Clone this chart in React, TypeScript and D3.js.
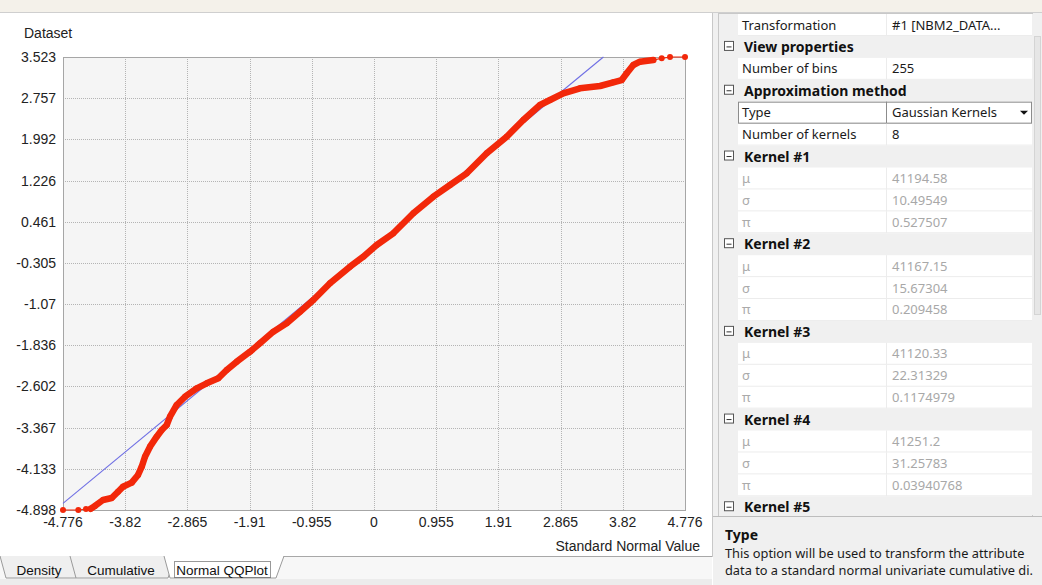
import React from 'react';
import * as d3 from 'd3';

// Normal QQ plot: standard normal quantile (z) vs transformed dataset value
const qqZ = [
  -4.776, -4.541, -4.423, -4.351, -4.285, -4.162, -4.028, -3.931, -3.855, -3.721,
  -3.624, -3.567, -3.517, -3.44, -3.337, -3.26, -3.183, -3.133, -3.03, -2.902,
  -2.723, -2.569, -2.391, -2.262, -2.108, -1.904, -1.751, -1.546, -1.341, -1.136,
  -0.932, -0.676, -0.369, -0.164, 0.041, 0.296, 0.604, 0.911, 1.167, 1.424,
  1.731, 2.038, 2.293, 2.549, 2.703, 2.907, 3.164, 3.471, 3.675, 3.804,
  3.881, 3.982, 4.085, 4.289, 4.418, 4.546, 4.776,
];
const qqValue = [
  -4.898, -4.898, -4.879, -4.874, -4.823, -4.712, -4.675, -4.558, -4.465, -4.39,
  -4.247, -4.093, -3.907, -3.721, -3.535, -3.411, -3.318, -3.163, -2.946, -2.792,
  -2.636, -2.543, -2.45, -2.295, -2.141, -1.955, -1.799, -1.583, -1.427, -1.212,
  -0.994, -0.684, -0.375, -0.189, 0.028, 0.246, 0.618, 0.926, 1.144, 1.361,
  1.733, 2.041, 2.352, 2.631, 2.724, 2.848, 2.941, 2.984, 3.053, 3.095,
  3.22, 3.374, 3.436, 3.467, 3.499, 3.523, 3.523,
];
// reference line (value = z)
const refLine: [number, number][] = [[-4.776, -4.776], [3.523, 3.523]];

const xTicks = [-4.776, -3.82, -2.865, -1.91, -0.955, 0, 0.955, 1.91, 2.865, 3.82, 4.776];
const yTicks = [3.523, 2.757, 1.992, 1.226, 0.461, -0.305, -1.07, -1.836, -2.602, -3.367, -4.133, -4.898];

const tabNames = ['Density', 'Cumulative', 'Normal QQPlot'];

// property grid rows
const gridRows: [string, string, string][] = [
  ['prop', 'Transformation', '#1 [NBM2_DATA...'],
  ['cat', 'View properties', ''],
  ['prop', 'Number of bins', '255'],
  ['cat', 'Approximation method', ''],
  ['select', 'Type', 'Gaussian Kernels'],
  ['prop', 'Number of kernels', '8'],
  ['cat', 'Kernel #1', ''],
  ['param', 'μ', '41194.58'],
  ['param', 'σ', '10.49549'],
  ['param', 'π', '0.527507'],
  ['cat', 'Kernel #2', ''],
  ['param', 'μ', '41167.15'],
  ['param', 'σ', '15.67304'],
  ['param', 'π', '0.209458'],
  ['cat', 'Kernel #3', ''],
  ['param', 'μ', '41120.33'],
  ['param', 'σ', '22.31329'],
  ['param', 'π', '0.1174979'],
  ['cat', 'Kernel #4', ''],
  ['param', 'μ', '41251.2'],
  ['param', 'σ', '31.25783'],
  ['param', 'π', '0.03940768'],
  ['cat', 'Kernel #5', ''],
];

const descTitle = 'Type';
const descLines = [
  'This option will be used to transform the attribute',
  'data to a standard normal univariate cumulative di.',
];

const W = 1042;
const H = 585;
const plot = { left: 63, right: 685, top: 57, bottom: 510 };
const chartFont = '"Liberation Sans", Arial, sans-serif';
const gridFont = '"Noto Sans", "DejaVu Sans", sans-serif';

const App = () => {
  const x = d3.scaleLinear().domain([-4.776, 4.776]).range([plot.left, plot.right]);
  const y = d3.scaleLinear().domain([-4.898, 3.523]).range([plot.bottom, plot.top]);

  const points: [number, number][] = qqZ.map((z, i) => [z, qqValue[i]]);
  const line = d3.line<[number, number]>().x(d => x(d[0])).y(d => y(d[1]));
  const band = points.slice(3, points.length - 3);

  const rowY = (i: number) => 25 + i * 21.92;
  const nameX = 738;
  const valueX = 887;
  const gridRight = 1032;

  // bottom tabs (trapezoids hanging below the strip)
  const tabs = [
    { x0: 0, x1: 84, label: tabNames[0], cx: 39 },
    { x0: 70, x1: 176, label: tabNames[1], cx: 121 },
    { x0: 164, x1: 284, label: tabNames[2], cx: 222 },
  ];

  return (
    <svg width={W} height={H} style={{ position: 'absolute', left: 0, top: 0, background: '#fff' }}>
      {/* top strip */}
      <rect x={0} y={0} width={W} height={12} fill="#f4f1ea" />
      <line x1={0} x2={W} y1={12.5} y2={12.5} stroke="#cfcfcf" />

      {/* left panel */}
      <rect x={0} y={13} width={712} height={543} fill="#fff" />
      <line x1={712.5} x2={712.5} y1={13} y2={557} stroke="#c8c8c8" />

      {/* plot area */}
      <rect x={plot.left} y={plot.top} width={plot.right - plot.left} height={plot.bottom - plot.top} fill="#f5f5f5" />
      <g stroke="#b4b4b4" strokeWidth={1} strokeDasharray="1 1">
        {xTicks.slice(1, -1).map(t => (
          <line key={'gx' + t} x1={Math.round(x(t)) + 0.5} x2={Math.round(x(t)) + 0.5} y1={plot.top} y2={plot.bottom} />
        ))}
        {yTicks.slice(1, -1).map(t => (
          <line key={'gy' + t} x1={plot.left} x2={plot.right} y1={Math.round(y(t)) + 0.5} y2={Math.round(y(t)) + 0.5} />
        ))}
      </g>
      <rect x={plot.left + 0.5} y={plot.top + 0.5} width={plot.right - plot.left} height={plot.bottom - plot.top} fill="none" stroke="#a6a6a6" />

      {/* reference line */}
      <path d={line(refLine) || ''} stroke="#6f6fe4" strokeWidth={1.1} fill="none" />

      {/* QQ points */}
      <path d={line(points) || ''} stroke="#f2280a" strokeWidth={1.2} fill="none" />
      <path d={line(band) || ''} stroke="#f2280a" strokeWidth={6.5} strokeLinejoin="round" strokeLinecap="round" fill="none" />
      {points.map((p, i) => (
        <circle key={i} cx={x(p[0])} cy={y(p[1])} r={3} fill="#f2280a" />
      ))}

      {/* axis labels */}
      <g fontFamily={chartFont} fontSize={14} fill="#222">
        <text x={24} y={38}>Dataset</text>
        {yTicks.map(t => (
          <text key={'yt' + t} x={56} y={y(t) + 5} textAnchor="end">{String(t)}</text>
        ))}
        {xTicks.map(t => (
          <text key={'xt' + t} x={x(t)} y={527} textAnchor="middle">{String(t)}</text>
        ))}
        <text x={700} y={551} textAnchor="end">Standard Normal Value</text>
      </g>

      {/* tab strip */}
      <rect x={0} y={556} width={712} height={24} fill="#f7f7f7" />
      <rect x={0} y={579} width={712} height={6} fill="#ececec" />
      <line x1={0} x2={712} y1={556.5} y2={556.5} stroke="#a8a8a8" />
      {tabs.map((t, i) => {
        const selected = i === 2;
        return (
          <g key={t.label}>
            <path
              d={`M${t.x0},556 L${t.x0 + 6},578 L${t.x1 - 8},578 L${t.x1},556`}
              fill={selected ? '#ffffff' : '#efefef'}
              stroke="#9a9a9a"
            />
            <text x={t.cx} y={575} textAnchor="middle" fontFamily={chartFont} fontSize={13.5} fill="#111">{t.label}</text>
          </g>
        );
      })}
      <rect x={174.5} y={561.5} width={96} height={16} fill="none" stroke="#333" strokeDasharray="1 1" />

      {/* right panel */}
      <rect x={713} y={13} width={W - 713} height={H - 13} fill="#f0f0f0" />
      <rect x={718.5} y={13.5} width={gridRight - 718} height={502} fill="#fff" stroke="#c8c8c8" />
      <rect x={719} y={14} width={19} height={501} fill="#f0f0f0" />
      {gridRows.map((r, i) => {
        const cy = rowY(i);
        const top = cy - 11;
        const [kind, name, value] = r;
        if (kind === 'cat') {
          return (
            <g key={i}>
              <rect x={719} y={top} width={gridRight - 719} height={22} fill="#f0f0f0" />
              <rect x={724.5} y={cy - 5.5} width={9} height={9} fill="#fff" stroke="#555" />
              <line x1={726.5} x2={731.5} y1={cy} y2={cy} stroke="#333" />
              <text x={744} y={cy + 5} fontFamily={gridFont} fontSize={14} fontWeight="bold" fill="#111">{name}</text>
            </g>
          );
        }
        const muted = kind === 'param';
        return (
          <g key={i}>
            <line x1={nameX} x2={gridRight} y1={top + 22 - 0.5} y2={top + 22 - 0.5} stroke="#ececec" />
            <line x1={valueX - 0.5} x2={valueX - 0.5} y1={top} y2={top + 22} stroke="#ececec" />
            {kind === 'select' && (
              <g>
                <rect x={nameX + 0.5} y={top + 0.5} width={gridRight - nameX - 1} height={21} fill="none" stroke="#8c8c8c" />
                <line x1={valueX - 0.5} x2={valueX - 0.5} y1={top} y2={top + 22} stroke="#8c8c8c" />
                <path d={`M${1020},${cy - 2} l8,0 l-4,4 z`} fill="#111" />
              </g>
            )}
            <text x={nameX + 4} y={cy + 4.5} fontFamily={gridFont} fontSize={13} fill={muted ? '#aaaaaa' : '#1a1a1a'}>{name}</text>
            <text x={valueX + 5} y={cy + 4.5} fontFamily={gridFont} fontSize={13} fill={muted ? '#a8a8a8' : '#1a1a1a'}>{value}</text>
          </g>
        );
      })}
      {/* scrollbar */}
      <rect x={1032} y={14} width={10} height={501} fill="#f0f0f0" />
      <rect x={1034.5} y={36.5} width={6} height={278} fill="#e6e6e6" stroke="#d4d4d4" />

      {/* description pane */}
      <line x1={713} x2={W} y1={516.5} y2={516.5} stroke="#bdbdbd" />
      <text x={725} y={540} fontFamily={gridFont} fontSize={14} fontWeight="bold" fill="#111">{descTitle}</text>
      {descLines.map((l, i) => (
        <text key={i} x={725} y={558 + i * 17} fontFamily={gridFont} fontSize={12.8} fill="#1a1a1a">{l}</text>
      ))}
    </svg>
  );
};

export default App;
